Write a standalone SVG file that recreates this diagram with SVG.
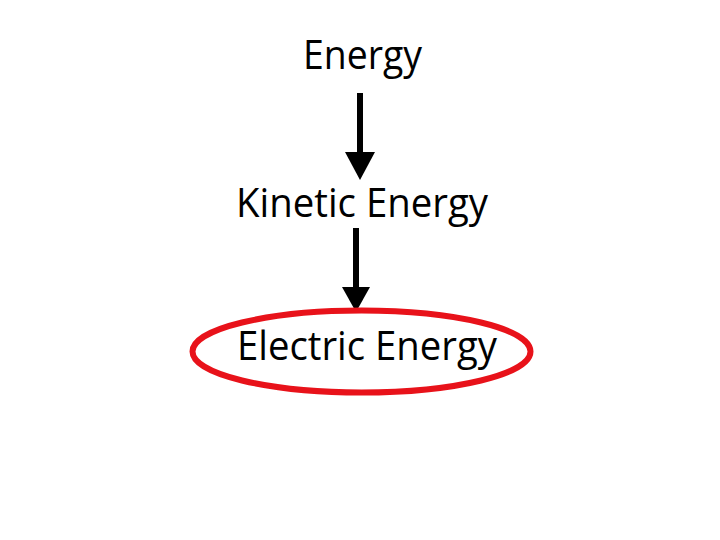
<svg xmlns="http://www.w3.org/2000/svg" width="720" height="540" viewBox="0 0 720 540">
<style>
.t{font-family:"Open Sans","Noto Sans",sans-serif;font-size:41px;fill:#000}
.sh{stroke:#000;stroke-width:6;fill:none}
.hd{fill:#000}
</style>
<rect width="720" height="540" fill="#fff"/>
<g id="connectors">
<line class="sh" x1="360" y1="93" x2="360" y2="156"/>
<polygon class="hd" points="345,152 375,152 360,180"/>
<line class="sh" x1="356" y1="228" x2="356" y2="290"/>
<polygon class="hd" points="342,287 370,287 356,312"/>
</g>
<g id="n1"><text class="t" x="362.5" y="69" text-anchor="middle" textLength="119" lengthAdjust="spacingAndGlyphs">Energy</text></g>
<g id="n2"><text class="t" x="362" y="217" text-anchor="middle" textLength="252" lengthAdjust="spacingAndGlyphs">Kinetic Energy</text></g>
<g id="n3">
<ellipse cx="361.5" cy="351.5" rx="169" ry="41" fill="none" stroke="#e8121a" stroke-width="6"/>
<text class="t" x="367" y="360" text-anchor="middle" textLength="260" lengthAdjust="spacingAndGlyphs">Electric Energy</text>
</g>
</svg>
